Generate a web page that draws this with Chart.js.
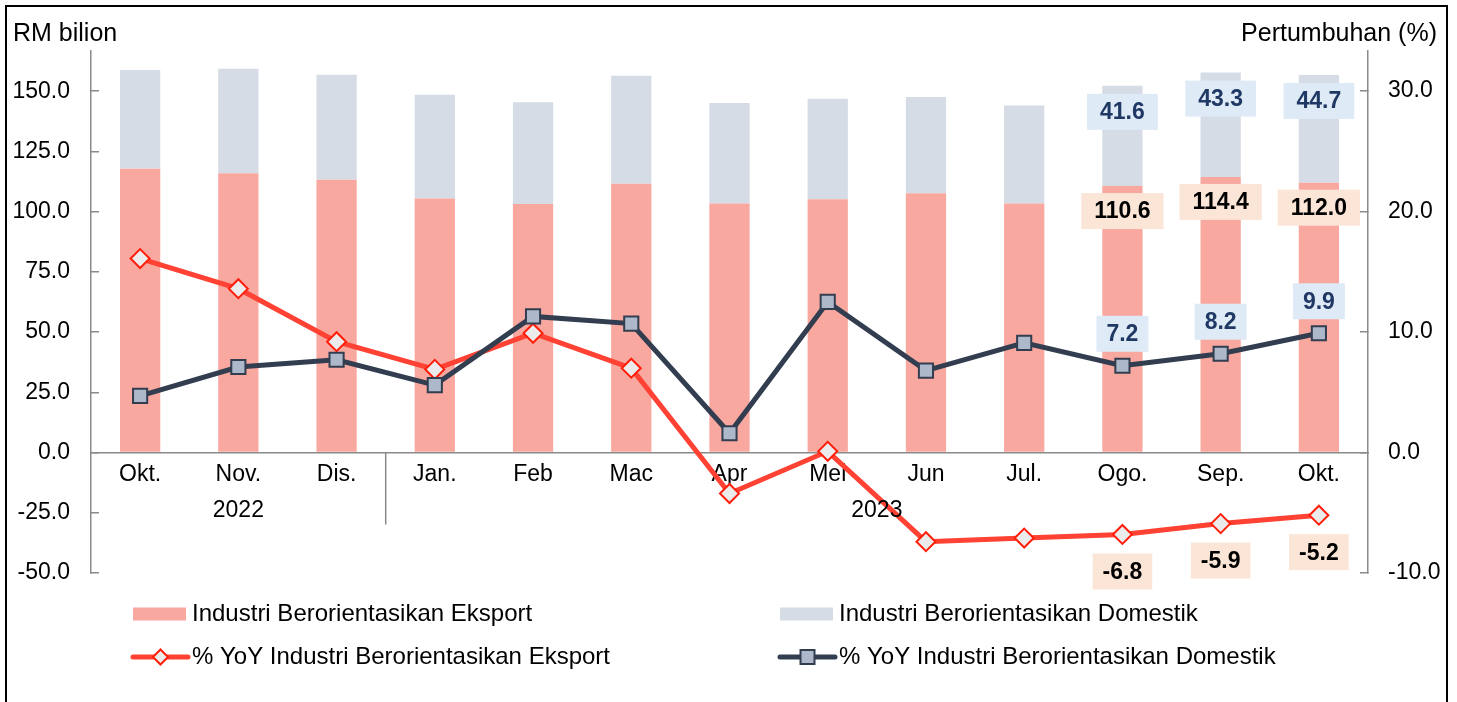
<!DOCTYPE html>
<html><head><meta charset="utf-8">
<script src="https://cdn.jsdelivr.net/npm/chart.js@4.4.0/dist/chart.umd.min.js"></script>
<style>html,body{margin:0;padding:0;background:#fff}#wrap{position:relative;width:1457px;height:702px}</style>
</head><body><div id="wrap"><canvas id="c"></canvas></div>
<script>
// ---- data ----
const categories = ['Okt.','Nov.','Dis.','Jan.','Feb','Mac','Apr','Mei','Jun','Jul.','Ogo.','Sep.','Okt.'];
const yearLabels = ['2022','2023'];
const yearStartIndex = [0, 3];
const yearEndIndex = [2, 12];
const exportValues = [117.8,115.9,113.2,105.4,103.2,111.6,103.4,105.1,107.6,103.4,110.6,114.4,112.0];
const domesticValues = [41.0,43.4,43.6,43.1,42.2,44.8,41.7,41.8,40.0,40.7,41.6,43.3,44.7];
const exportYoY = [16.1,13.6,9.2,6.9,9.9,7.0,-3.4,0.1,-7.4,-7.1,-6.8,-5.9,-5.2];
const domesticYoY = [4.7,7.1,7.7,5.6,11.3,10.7,1.6,12.5,6.8,9.1,7.2,8.2,9.9];
const leftTicks = [-50,-25,0,25,50,75,100,125,150];
const rightTicks = [-10,0,10,20,30];
const seriesNames = ['Industri Berorientasikan Eksport','Industri Berorientasikan Domestik',
  '% YoY Industri Berorientasikan Eksport','% YoY Industri Berorientasikan Domestik'];
const leftTitle = 'RM bilion';
const rightTitle = 'Pertumbuhan (%)';
const labelledFrom = 10;

// ---- style ----
const FONT = "'Liberation Sans', Arial, sans-serif";
const AXIS = '#8a8a8a';
const C_EXP = '#F9A8A0', C_DOM = '#D6DCE5';
const C_RED = '#FF4233', C_NAVY = '#323E50';

const framePlugin = {
  id: 'frame',
  beforeDraw(chart) {
    const ctx = chart.ctx;
    ctx.save();
    ctx.fillStyle = '#fff';
    ctx.fillRect(0, 0, chart.width, chart.height);
    ctx.strokeStyle = '#000'; ctx.lineWidth = 2;
    ctx.strokeRect(6, 6, 1441, chart.height + 20);
    ctx.restore();
  }
};

function box(ctx, text, cx, cy, padX, h, bg, fg) {
  ctx.font = 'bold 23px ' + FONT;
  const w = ctx.measureText(text).width + padX * 2;
  ctx.fillStyle = bg;
  ctx.fillRect(cx - w / 2, cy - h / 2, w, h);
  ctx.fillStyle = fg;
  ctx.textAlign = 'center'; ctx.textBaseline = 'middle';
  ctx.fillText(text, cx, cy + 1);
}

const extrasPlugin = {
  id: 'extras',
  afterDraw(chart) {
    const ctx = chart.ctx;
    const xs = chart.scales.x, ys = chart.scales.y;
    const zero = ys.getPixelForValue(0);
    ctx.save();
    // titles
    ctx.fillStyle = '#000';
    ctx.font = '25px ' + FONT;
    ctx.textBaseline = 'middle';
    ctx.textAlign = 'left';
    ctx.fillText(leftTitle, 13, 34);
    ctx.textAlign = 'right';
    ctx.fillText(rightTitle, 1437, 34);
    // year separator
    ctx.font = '23px ' + FONT;
    ctx.strokeStyle = AXIS; ctx.lineWidth = 1.5;
    const sepX = (xs.getPixelForValue(yearEndIndex[0]) + xs.getPixelForValue(yearStartIndex[1])) / 2;
    ctx.beginPath(); ctx.moveTo(sepX, zero); ctx.lineTo(sepX, zero + 72); ctx.stroke();
    // year labels
    ctx.textAlign = 'center'; ctx.fillStyle = '#000';
    for (let k = 0; k < yearLabels.length; k++) {
      const cx = (xs.getPixelForValue(yearStartIndex[k]) + xs.getPixelForValue(yearEndIndex[k])) / 2;
      ctx.fillText(yearLabels[k], cx, zero + 58);
    }
    // data labels
    const mExp = chart.getDatasetMeta(0), mDom = chart.getDatasetMeta(1);
    const mExpY = chart.getDatasetMeta(2), mDomY = chart.getDatasetMeta(3);
    for (let i = labelledFrom; i < categories.length; i++) {
      box(ctx, domesticValues[i].toFixed(1), mDom.data[i].x, mDom.data[i].y + 26, 13, 36, '#DEEAF6', '#1F3864');
      box(ctx, exportValues[i].toFixed(1), mExp.data[i].x, mExp.data[i].y + 25, 13, 36, '#FBE5D6', '#000');
      box(ctx, domesticYoY[i].toFixed(1), mDomY.data[i].x, mDomY.data[i].y - 32, 10, 36, '#DEEAF6', '#1F3864');
      box(ctx, exportYoY[i].toFixed(1), mExpY.data[i].x, mExpY.data[i].y + 37, 10, 36, '#FBE5D6', '#000');
    }
    // legend
    const colX = [133, 780], rowY = [614, 657];
    const items = [[0,0,0],[1,1,0],[2,0,1],[3,1,1]];
    ctx.font = '24px ' + FONT;
    ctx.textAlign = 'left'; ctx.textBaseline = 'middle';
    items.forEach(([d, c, r]) => {
      const ds = chart.data.datasets[d];
      const x = colX[c], y = rowY[r];
      if (ds.type === 'line') {
        ctx.strokeStyle = ds.borderColor; ctx.lineWidth = 5; ctx.lineCap = 'round';
        ctx.beginPath(); ctx.moveTo(x, y); ctx.lineTo(x + 55, y); ctx.stroke();
        ctx.fillStyle = ds.pointBackgroundColor; ctx.strokeStyle = ds.pointBorderColor;
        ctx.lineWidth = ds.pointBorderWidth;
        ctx.beginPath();
        if (ds.pointStyle === 'rectRot') {
          const r = ds.pointRadius - 2;
          ctx.moveTo(x + 27.5, y - r); ctx.lineTo(x + 27.5 + r, y); ctx.lineTo(x + 27.5, y + r); ctx.lineTo(x + 27.5 - r, y); ctx.closePath();
        } else {
          const s = 7;
          ctx.rect(x + 27.5 - s, y - s, 2 * s, 2 * s);
        }
        ctx.fill(); ctx.stroke();
      } else {
        ctx.fillStyle = ds.backgroundColor;
        ctx.fillRect(x, y - 6.5, 53, 13);
      }
      ctx.fillStyle = '#000';
      ctx.fillText(ds.label, x + 59, y);
    });
    ctx.restore();
  }
};

const tickFont = { family: FONT, size: 23 };

new Chart(document.getElementById('c'), {
  data: {
    labels: categories,
    datasets: [
      { type: 'bar', label: seriesNames[0], data: exportValues, backgroundColor: C_EXP, yAxisID: 'y', stack: 's', order: 3,
        barPercentage: 0.41, categoryPercentage: 1 },
      { type: 'bar', label: seriesNames[1], data: domesticValues, backgroundColor: C_DOM, yAxisID: 'y', stack: 's', order: 3,
        barPercentage: 0.41, categoryPercentage: 1 },
      { type: 'line', label: seriesNames[2], data: exportYoY, yAxisID: 'y2', order: 2,
        borderColor: C_RED, borderWidth: 5, pointStyle: 'rectRot', pointRadius: 9.5, pointBackgroundColor: '#EBEBEB',
        pointBorderColor: '#FF1E0A', pointBorderWidth: 2, tension: 0 },
      { type: 'line', label: seriesNames[3], data: domesticYoY, yAxisID: 'y2', order: 1,
        borderColor: C_NAVY, borderWidth: 5, pointStyle: 'rect', pointRadius: 10, pointBackgroundColor: '#ADB8CA',
        pointBorderColor: C_NAVY, pointBorderWidth: 2, tension: 0 }
    ]
  },
  options: {
    responsive: true, maintainAspectRatio: false, animation: false,
    layout: { padding: { left: 0, right: 0, top: 51, bottom: 129 } },
    plugins: { legend: { display: false }, tooltip: { enabled: false } },
    scales: {
      x: {
        type: 'category', position: { y: 0 }, offset: true,
        grid: { display: true, drawOnChartArea: false, drawTicks: false },
        border: { display: true, color: AXIS, width: 1.5 },
        ticks: { color: '#000', font: tickFont, padding: 8, maxRotation: 0, autoSkip: false },
        afterFit: s => { s.height = 0; }
      },
      y: {
        type: 'linear', position: 'left', stacked: true, min: -50, max: 166.67,
        grid: { drawOnChartArea: false, drawTicks: true, tickLength: -8, color: AXIS, lineWidth: 1.5 },
        border: { display: true, color: AXIS, width: 1.5 },
        ticks: { color: '#000', font: tickFont, padding: 29, callback: v => v.toFixed(1) },
        afterBuildTicks: s => { s.ticks = leftTicks.map(v => ({ value: v })); },
        afterFit: s => { s.width = 91; }
      },
      y2: {
        type: 'linear', position: 'right', min: -10, max: 33.33,
        grid: { drawOnChartArea: false, drawTicks: true, tickLength: -8, color: AXIS, lineWidth: 1.5 },
        border: { display: true, color: AXIS, width: 1.5 },
        ticks: { color: '#000', font: tickFont, padding: 28, callback: v => v.toFixed(1) },
        afterBuildTicks: s => { s.ticks = rightTicks.map(v => ({ value: v })); },
        afterFit: s => { s.width = 89; }
      }
    }
  },
  plugins: [framePlugin, extrasPlugin]
});
</script></body></html>
